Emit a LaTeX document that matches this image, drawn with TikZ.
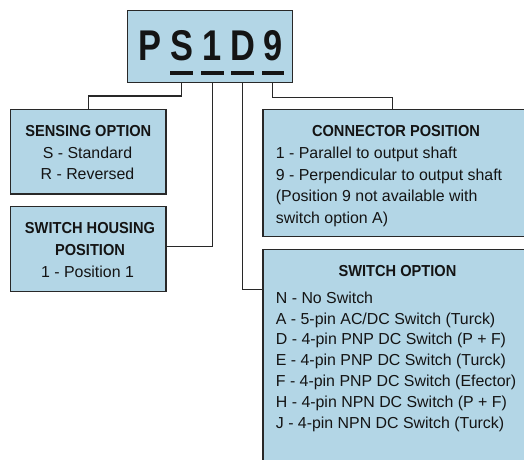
\documentclass[tikz,border=0pt]{standalone}
\usepackage{fontspec}
\setmainfont{Liberation Sans}[BoldFeatures={FakeStretch=0.92}]
\newfontfamily\bigfont{Liberation Sans}[FakeStretch=0.8]
\usetikzlibrary{calc}
\definecolor{boxblue}{RGB}{179,214,230}
\definecolor{edge}{RGB}{40,40,40}
\begin{document}
\begin{tikzpicture}[x=1pt,y=-1pt,
  box/.style={draw=edge, line width=1.4pt, fill=boxblue, inner sep=0pt},
  wire/.style={draw=edge, line width=1.2pt},
  txt/.style={inner sep=0pt, font=\fontsize{15.9}{18}\selectfont, text=black!92},
  ttl/.style={txt, font=\fontsize{15.9}{18}\selectfont\bfseries},
  big/.style={inner sep=0pt, anchor=base, text=black!92, font=\fontsize{43}{43}\bigfont\bfseries},
  uline/.style={fill=black!92}]
\useasboundingbox (0,0) rectangle (524,459);
\clip (0,0) rectangle (524,459);
% boxes
\node[box, minimum width=165pt, minimum height=71.6pt] (top) at (210.2,46.5) {};
\node[box, minimum width=155.3pt, minimum height=84.7pt] (sense) at (88.3,151.7) {};
\node[box, minimum width=155.3pt, minimum height=85pt] (house) at (88.3,249.2) {};
\node[box, minimum width=268pt, minimum height=127.4pt] (conn) at (396.8,173) {};
\node[box, minimum width=268pt, minimum height=240pt] (switch) at (397,369.3) {};
% title letters
\foreach \n/\c/\x in {lP/P/149.7, lS/S/181.5, l1/1/212.3, lD/D/242.7, l9/9/272.8}
  \node[big] (\n) at (\x,60.5) {\c};
\foreach \n in {lS,l1,lD,l9}
  \fill[uline] ($(\n.base)+(-11.3,10.8)$) rectangle ($(\n.base)+(11.3,14)$);
% connectors
\coordinate (jS) at (88.3,96);
\coordinate (jD) at ($(switch.north west)+(0,40.7)$);
\coordinate (j9) at (392.7,97.3);
\draw[wire] (top.south -| lS) |- (jS) -- (sense.north);
\draw[wire] (top.south -| l1) |- ([yshift=2.5pt]house.east);
\draw[wire] (top.south -| lD) |- (jD);
\draw[wire] (top.south -| l9) |- (j9) -- (j9 |- conn.north);
% sensing option
\node[ttl, anchor=base] (senseT) at (88.3,136.7) {SENSING OPTION};
\node[txt, anchor=base] (senseA) at (87.5,158.5) {S - Standard};
\node[txt, anchor=base] (senseB) at (87.5,179.5) {R - Reversed};
% switch housing position
\node[ttl, anchor=base] (houseT) at (90,233.3) {SWITCH HOUSING};
\node[ttl, anchor=base] (houseU) at (90,255.7) {POSITION};
\node[txt, anchor=base] (houseA) at (87.5,277) {1 - Position 1};
% connector position
\node[ttl, anchor=base] (connT) at (396,136.7) {CONNECTOR POSITION};
\foreach \t [count=\i] in {{1 - Parallel to output shaft}, {9 - Perpendicular to output shaft}, {(Position 9 not available with}, {switch option A)}}
  \node[txt, anchor=base west] (conn\i) at (275.7,{158.3+21.7*(\i-1)}) {\t};
% switch option
\node[ttl, anchor=base] (swT) at (397.5,276) {SWITCH OPTION};
\foreach \t [count=\i] in {{N - No Switch}, {A - 5-pin AC/DC Switch (Turck)}, {D - 4-pin PNP DC Switch (P + F)}, {E - 4-pin PNP DC Switch (Turck)}, {F - 4-pin PNP DC Switch (Efector)}, {H - 4-pin NPN DC Switch (P + F)}, {J - 4-pin NPN DC Switch (Turck)}}
  \node[txt, anchor=base west] (sw\i) at (275.7,{303.3+20.83*(\i-1)}) {\t};
\end{tikzpicture}
\end{document}
